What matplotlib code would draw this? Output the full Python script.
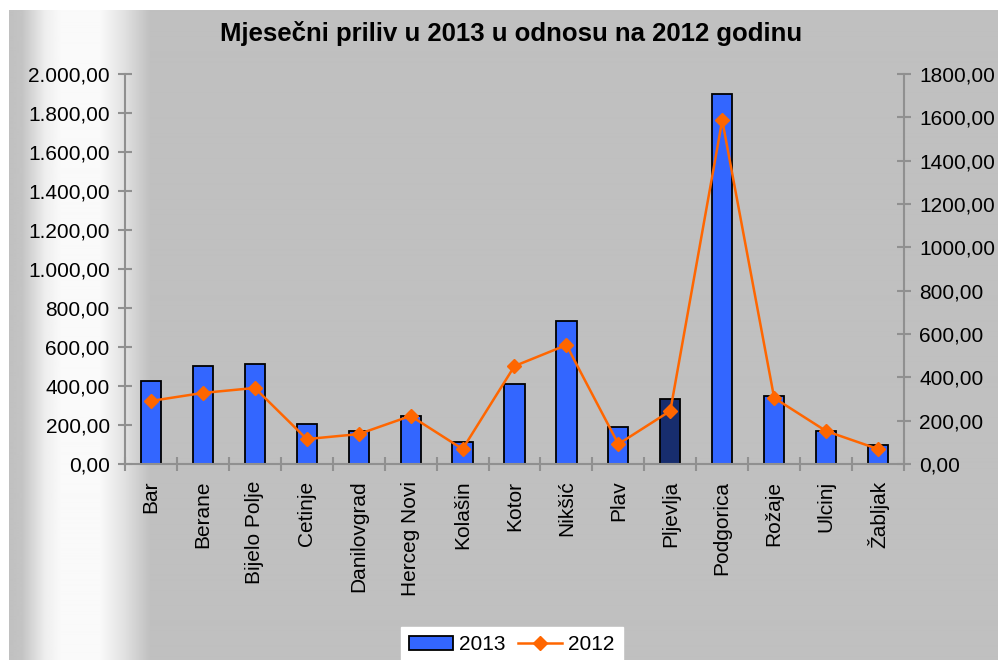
import matplotlib
matplotlib.use("Agg")
import matplotlib.pyplot as plt
from matplotlib.lines import Line2D
from matplotlib.patches import Patch
import numpy as np

plt.rcParams['font.family'] = ['Liberation Sans', 'DejaVu Sans']

# data
towns = ["Bar", "Berane", "Bijelo Polje", "Cetinje", "Danilovgrad", "Herceg Novi",
         "Kolašin", "Kotor", "Nikšić", "Plav", "Pljevlja", "Podgorica", "Rožaje",
         "Ulcinj", "Žabljak"]
values_2013 = [426, 502, 512, 205, 169, 246, 113, 410, 733, 190, 333, 1897, 349, 169, 97]
values_2012 = [291, 328, 351, 115, 138, 222, 69, 452, 549, 92, 245, 1587, 305, 152, 69]
left_ticks = [0, 200, 400, 600, 800, 1000, 1200, 1400, 1600, 1800, 2000]
right_ticks = [0, 200, 400, 600, 800, 1000, 1200, 1400, 1600, 1800]

W, H = 998, 660
fig = plt.figure(figsize=(W / 100, H / 100), dpi=100)
fig.patch.set_facecolor("white")

# gray background with light band on the left
bg = fig.add_axes([9 / W, 0, 1 - 9 / W, 1 - 10 / H])
bg.set_axis_off()
xs = np.arange(9, W)
grey = np.interp(xs, [9, 22, 45, 62, 100, 122, 150, W],
                 [192, 196, 238, 250, 250, 228, 192, 192]) / 255.0
img = np.tile(grey, (2, 1))
bg.imshow(img, cmap="gray", vmin=0, vmax=1, aspect="auto",
          extent=[0, 1, 0, 1], interpolation="bilinear")
bg.set_xlim(0, 1)
bg.set_ylim(0, 1)

ax = fig.add_axes([125 / W, 1 - 464 / H, (904 - 125) / W, (464 - 74) / H])
ax.patch.set_alpha(0)
x = np.arange(len(towns))
colors = ["#3366FF"] * len(towns)
colors[towns.index("Pljevlja")] = "#172D6E"
ax.bar(x, values_2013, width=0.39, color=colors, edgecolor="black", linewidth=1.3,
       zorder=2)
ax.set_xlim(-0.5, len(towns) - 0.5)
ax.set_ylim(0, 2000)
ax.set_yticks(left_ticks)
ax.set_yticklabels([f"{v:,.2f}".replace(",", "X").replace(".", ",").replace("X", ".")
                    for v in left_ticks])

ax.set_xticks(x)
ax.set_xticklabels(towns, rotation=90, fontsize=15)
ax.set_xticks(np.arange(-0.5, len(towns)), minor=True)
ax.tick_params(axis="x", which="major", length=0, pad=12)
ax.tick_params(axis="x", which="minor", length=10, direction="inout",
               color="#909090", width=1.5)
ax.tick_params(axis="y", length=10, direction="inout", color="#909090", width=1.5,
               labelsize=15, pad=6)

for side in ["top", "right"]:
    ax.spines[side].set_visible(False)
for side in ["left", "bottom"]:
    ax.spines[side].set_color("#909090")
    ax.spines[side].set_linewidth(1.5)

ax2 = ax.twinx()
ax2.plot(x, values_2012, color="#FF6600", linewidth=1.8, marker="D", markersize=7,
         zorder=3)
ax2.set_ylim(0, 1800)
ax2.set_yticks(right_ticks)
ax2.set_yticklabels([f"{v:.2f}".replace(".", ",") for v in right_ticks])
ax2.tick_params(axis="y", length=10, direction="inout", color="#909090", width=1.5,
                labelsize=15, pad=6)
for side in ["top", "left", "bottom"]:
    ax2.spines[side].set_visible(False)
ax2.spines["right"].set_color("#909090")
ax2.spines["right"].set_linewidth(1.5)

fig.text(511 / W, 1 - 33 / H, "Mjesečni priliv u 2013 u odnosu na 2012 godinu",
         ha="center", va="center", fontsize=18.5, fontweight="bold")

handles = [Patch(facecolor="#3366FF", edgecolor="black", linewidth=1.3),
           Line2D([], [], color="#FF6600", linewidth=1.8, marker="D", markersize=7)]
leg = fig.legend(handles, ["2013", "2012"], loc="upper center", ncol=2,
                 bbox_to_anchor=(512 / W, 1 - 627 / H), fontsize=15, frameon=True,
                 fancybox=False, handlelength=2.1, columnspacing=0.6,
                 handletextpad=0.3, borderpad=0.4, borderaxespad=0.0)
leg.get_frame().set_facecolor("white")
leg.get_frame().set_edgecolor("white")
leg.get_frame().set_alpha(1)

fig.savefig("out.png", dpi=100)
